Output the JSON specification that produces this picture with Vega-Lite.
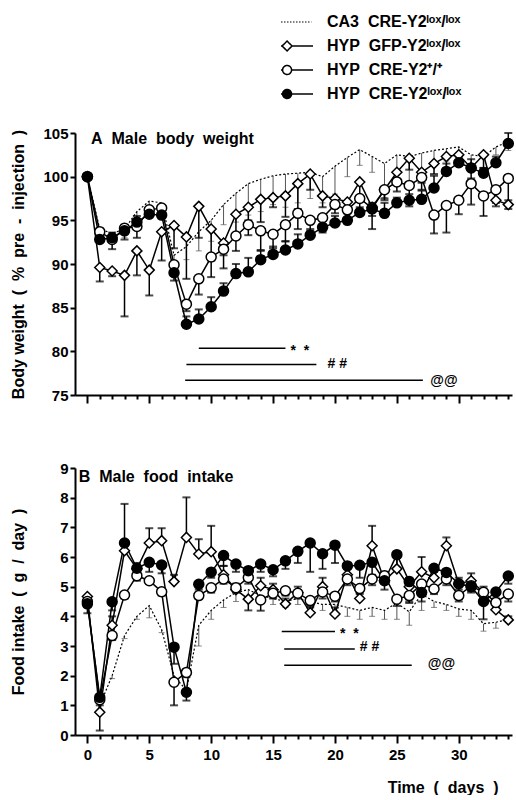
{
"$schema": "https://vega.github.io/schema/vega-lite/v6.json",
"padding": {"left": 9, "top": 14, "right": 0, "bottom": 0},
"background": "white",
"config": {
  "font": "Liberation Sans",
  "view": {"stroke": null},
  "axis": {"domainColor": "black", "domainWidth": 2, "tickColor": "black", "tickWidth": 2, "labelFont": "Liberation Sans", "labelFontWeight": "bold", "labelFontSize": 15, "labelColor": "black", "titleFont": "Liberation Sans", "titleFontWeight": "bold", "titleFontSize": 16, "titleColor": "black", "grid": false, "labelPadding": 2},
  "concat": {"spacing": 57}
},
"datasets": {
"s": [
{"p":"A","g":"CA3","x":0,"y":100},{"p":"A","g":"CA3","x":1,"y":94.0,"e":93.3},{"p":"A","g":"CA3","x":2,"y":93.5,"e":92.8},{"p":"A","g":"CA3","x":3,"y":94.0,"e":93.0},{"p":"A","g":"CA3","x":4,"y":96.0,"e":95.2},{"p":"A","g":"CA3","x":5,"y":97.2,"e":96.5},{"p":"A","g":"CA3","x":6,"y":97.0,"e":96.2},{"p":"A","g":"CA3","x":7,"y":91.0,"e":89.5},{"p":"A","g":"CA3","x":8,"y":92.0,"e":90.5},{"p":"A","g":"CA3","x":9,"y":93.7,"e":91.5},{"p":"A","g":"CA3","x":10,"y":95.0,"e":92.6},{"p":"A","g":"CA3","x":11,"y":96.8,"e":94.5},{"p":"A","g":"CA3","x":12,"y":98.1,"e":94.8},{"p":"A","g":"CA3","x":13,"y":99.2,"e":95.6},{"p":"A","g":"CA3","x":14,"y":99.7,"e":96.0},{"p":"A","g":"CA3","x":15,"y":100.1,"e":96.8},{"p":"A","g":"CA3","x":16,"y":100.3,"e":96.5},{"p":"A","g":"CA3","x":17,"y":100.4,"e":97.0},{"p":"A","g":"CA3","x":18,"y":100.5,"e":97.5},{"p":"A","g":"CA3","x":19,"y":100.0,"e":97.0},{"p":"A","g":"CA3","x":20,"y":101.2,"e":98.0},{"p":"A","g":"CA3","x":21,"y":102.2,"e":100.0},{"p":"A","g":"CA3","x":22,"y":103.1,"e":101.3},{"p":"A","g":"CA3","x":23,"y":102.3,"e":100.5},{"p":"A","g":"CA3","x":24,"y":101.5,"e":97.6},{"p":"A","g":"CA3","x":25,"y":102.5,"e":100.2},{"p":"A","g":"CA3","x":26,"y":102.3,"e":99.0},{"p":"A","g":"CA3","x":27,"y":102.7,"e":100.0},{"p":"A","g":"CA3","x":28,"y":103.0,"e":101.5},{"p":"A","g":"CA3","x":29,"y":103.2,"e":101.8},{"p":"A","g":"CA3","x":30,"y":103.4,"e":102.0},{"p":"A","g":"CA3","x":31,"y":102.5,"e":101.5},{"p":"A","g":"CA3","x":32,"y":102.3,"e":101.0},{"p":"A","g":"CA3","x":33,"y":103.4,"e":102.5},{"p":"A","g":"CA3","x":34,"y":104.0,"e":103.0},
{"p":"A","g":"GFP","x":0,"y":100},{"p":"A","g":"GFP","x":1,"y":89.6,"e":88.0},{"p":"A","g":"GFP","x":2,"y":89.2,"e":88.6},{"p":"A","g":"GFP","x":3,"y":88.7,"e":84.0},{"p":"A","g":"GFP","x":4,"y":91.5,"e":88.7},{"p":"A","g":"GFP","x":5,"y":89.3,"e":86.4},{"p":"A","g":"GFP","x":6,"y":93.7,"e":90.4},{"p":"A","g":"GFP","x":7,"y":94.4,"e":91.8},{"p":"A","g":"GFP","x":8,"y":93.1,"e":88.3},{"p":"A","g":"GFP","x":9,"y":96.6,"e":93.0},{"p":"A","g":"GFP","x":10,"y":94.0,"e":90.4},{"p":"A","g":"GFP","x":11,"y":92.4,"e":91.0},{"p":"A","g":"GFP","x":12,"y":95.7,"e":93.3},{"p":"A","g":"GFP","x":13,"y":96.5,"e":95.0},{"p":"A","g":"GFP","x":14,"y":97.4,"e":94.8},{"p":"A","g":"GFP","x":15,"y":97.6,"e":96.5},{"p":"A","g":"GFP","x":16,"y":97.8,"e":95.4},{"p":"A","g":"GFP","x":17,"y":99.2,"e":96.3},{"p":"A","g":"GFP","x":18,"y":100.3,"e":98.5},{"p":"A","g":"GFP","x":19,"y":97.8,"e":96.5},{"p":"A","g":"GFP","x":20,"y":97.5,"e":96.5},{"p":"A","g":"GFP","x":21,"y":97.1,"e":96.0},{"p":"A","g":"GFP","x":22,"y":99.4,"e":97.4},{"p":"A","g":"GFP","x":23,"y":96.5,"e":95.5},{"p":"A","g":"GFP","x":24,"y":98.5,"e":97.5},{"p":"A","g":"GFP","x":25,"y":100.5,"e":99.2},{"p":"A","g":"GFP","x":26,"y":102.1,"e":100.8},{"p":"A","g":"GFP","x":27,"y":100.5,"e":99.3},{"p":"A","g":"GFP","x":28,"y":101.5,"e":100.3},{"p":"A","g":"GFP","x":29,"y":102.3,"e":101.0},{"p":"A","g":"GFP","x":30,"y":102.5,"e":101.5},{"p":"A","g":"GFP","x":31,"y":101.0,"e":99.8},{"p":"A","g":"GFP","x":32,"y":102.5,"e":101.0},{"p":"A","g":"GFP","x":33,"y":97.3,"e":96.6},{"p":"A","g":"GFP","x":34,"y":96.8,"e":96.3},
{"p":"A","g":"WT","x":0,"y":100},{"p":"A","g":"WT","x":1,"y":93.7,"e":93.0},{"p":"A","g":"WT","x":2,"y":92.8,"e":91.7},{"p":"A","g":"WT","x":3,"y":94.1,"e":92.8},{"p":"A","g":"WT","x":4,"y":94.3,"e":93.0},{"p":"A","g":"WT","x":5,"y":96.2,"e":95.5},{"p":"A","g":"WT","x":6,"y":96.4,"e":95.6},{"p":"A","g":"WT","x":7,"y":89.9,"e":88.1},{"p":"A","g":"WT","x":8,"y":85.4,"e":84.6},{"p":"A","g":"WT","x":9,"y":88.3,"e":86.5},{"p":"A","g":"WT","x":10,"y":90.8,"e":88.5},{"p":"A","g":"WT","x":11,"y":91.7,"e":89.5},{"p":"A","g":"WT","x":12,"y":93.2,"e":91.5},{"p":"A","g":"WT","x":13,"y":94.5,"e":93.3},{"p":"A","g":"WT","x":14,"y":93.8,"e":91.6},{"p":"A","g":"WT","x":15,"y":93.4,"e":91.8},{"p":"A","g":"WT","x":16,"y":94.5,"e":92.6},{"p":"A","g":"WT","x":17,"y":95.8,"e":94.0},{"p":"A","g":"WT","x":18,"y":95.0,"e":93.8},{"p":"A","g":"WT","x":19,"y":95.3,"e":93.6},{"p":"A","g":"WT","x":20,"y":96.8,"e":95.8},{"p":"A","g":"WT","x":21,"y":96.2,"e":94.8},{"p":"A","g":"WT","x":22,"y":97.5,"e":96.0},{"p":"A","g":"WT","x":23,"y":96.4,"e":94.0},{"p":"A","g":"WT","x":24,"y":98.5,"e":97.3},{"p":"A","g":"WT","x":25,"y":99.4,"e":98.3},{"p":"A","g":"WT","x":26,"y":99.0,"e":96.6},{"p":"A","g":"WT","x":27,"y":99.9,"e":98.5},{"p":"A","g":"WT","x":28,"y":95.6,"e":93.5},{"p":"A","g":"WT","x":29,"y":96.7,"e":93.6},{"p":"A","g":"WT","x":30,"y":97.3,"e":95.7},{"p":"A","g":"WT","x":31,"y":99.2,"e":96.8},{"p":"A","g":"WT","x":32,"y":97.8,"e":95.5},{"p":"A","g":"WT","x":33,"y":98.5,"e":97.0},{"p":"A","g":"WT","x":34,"y":99.8,"e":97.3},
{"p":"A","g":"KO","x":0,"y":100},{"p":"A","g":"KO","x":1,"y":92.8,"e":93.5},{"p":"A","g":"KO","x":2,"y":93.0,"e":93.6},{"p":"A","g":"KO","x":3,"y":93.8,"e":94.5},{"p":"A","g":"KO","x":4,"y":94.8,"e":95.5},{"p":"A","g":"KO","x":5,"y":95.7,"e":96.3},{"p":"A","g":"KO","x":6,"y":95.6,"e":96.2},{"p":"A","g":"KO","x":7,"y":89.0,"e":89.8},{"p":"A","g":"KO","x":8,"y":83.1,"e":84.0},{"p":"A","g":"KO","x":9,"y":83.7,"e":84.8},{"p":"A","g":"KO","x":10,"y":85.1,"e":86.2},{"p":"A","g":"KO","x":11,"y":86.9,"e":87.8},{"p":"A","g":"KO","x":12,"y":88.9,"e":90.0},{"p":"A","g":"KO","x":13,"y":89.1,"e":90.7},{"p":"A","g":"KO","x":14,"y":90.5,"e":91.5},{"p":"A","g":"KO","x":15,"y":91.1,"e":92.0},{"p":"A","g":"KO","x":16,"y":91.6,"e":92.6},{"p":"A","g":"KO","x":17,"y":92.3,"e":93.4},{"p":"A","g":"KO","x":18,"y":93.3,"e":94.0},{"p":"A","g":"KO","x":19,"y":94.2,"e":95.2},{"p":"A","g":"KO","x":20,"y":94.7,"e":95.5},{"p":"A","g":"KO","x":21,"y":95.0,"e":95.8},{"p":"A","g":"KO","x":22,"y":95.9,"e":96.5},{"p":"A","g":"KO","x":23,"y":96.3,"e":97.0},{"p":"A","g":"KO","x":24,"y":95.8,"e":97.0},{"p":"A","g":"KO","x":25,"y":97.0,"e":97.6},{"p":"A","g":"KO","x":26,"y":97.3,"e":98.0},{"p":"A","g":"KO","x":27,"y":97.4,"e":98.4},{"p":"A","g":"KO","x":28,"y":98.7,"e":100.1},{"p":"A","g":"KO","x":29,"y":100.6,"e":101.5},{"p":"A","g":"KO","x":30,"y":101.6,"e":102.3},{"p":"A","g":"KO","x":31,"y":101.0,"e":102.0},{"p":"A","g":"KO","x":32,"y":100.4,"e":101.0},{"p":"A","g":"KO","x":33,"y":101.6,"e":102.3},{"p":"A","g":"KO","x":34,"y":103.8,"e":105.0},
{"p":"B","g":"CA3","x":1,"y":1.0},{"p":"B","g":"CA3","x":2,"y":2.0,"e":1.9},{"p":"B","g":"CA3","x":3,"y":3.35,"e":3.25},{"p":"B","g":"CA3","x":4,"y":4.0,"e":3.9},{"p":"B","g":"CA3","x":5,"y":4.36,"e":3.95},{"p":"B","g":"CA3","x":6,"y":3.55,"e":3.45},{"p":"B","g":"CA3","x":7,"y":2.0,"e":1.9},{"p":"B","g":"CA3","x":8,"y":1.5,"e":1.4},{"p":"B","g":"CA3","x":9,"y":3.7,"e":3.0},{"p":"B","g":"CA3","x":10,"y":4.2,"e":3.9},{"p":"B","g":"CA3","x":11,"y":4.55,"e":4.3},{"p":"B","g":"CA3","x":12,"y":4.8,"e":4.5},{"p":"B","g":"CA3","x":13,"y":4.9,"e":4.6},{"p":"B","g":"CA3","x":14,"y":4.7,"e":4.5},{"p":"B","g":"CA3","x":15,"y":4.6,"e":4.4},{"p":"B","g":"CA3","x":16,"y":4.5,"e":4.3},{"p":"B","g":"CA3","x":17,"y":4.6,"e":4.4},{"p":"B","g":"CA3","x":18,"y":4.5,"e":4.3},{"p":"B","g":"CA3","x":19,"y":4.4,"e":4.2},{"p":"B","g":"CA3","x":20,"y":4.4,"e":4.2},{"p":"B","g":"CA3","x":21,"y":4.3,"e":4.0},{"p":"B","g":"CA3","x":22,"y":4.2,"e":3.9},{"p":"B","g":"CA3","x":23,"y":4.3,"e":4.0},{"p":"B","g":"CA3","x":24,"y":4.2,"e":3.9},{"p":"B","g":"CA3","x":25,"y":4.45,"e":3.9},{"p":"B","g":"CA3","x":26,"y":4.15,"e":3.7},{"p":"B","g":"CA3","x":27,"y":4.75,"e":4.2},{"p":"B","g":"CA3","x":28,"y":4.5,"e":4.3},{"p":"B","g":"CA3","x":29,"y":4.4,"e":4.2},{"p":"B","g":"CA3","x":30,"y":4.25,"e":4.0},{"p":"B","g":"CA3","x":31,"y":4.2,"e":3.9},{"p":"B","g":"CA3","x":32,"y":3.75,"e":3.5},{"p":"B","g":"CA3","x":33,"y":3.8,"e":3.6},{"p":"B","g":"CA3","x":34,"y":3.9,"e":3.8},
{"p":"B","g":"GFP","x":0,"y":4.67},{"p":"B","g":"GFP","x":1,"y":0.77,"e":0.15},{"p":"B","g":"GFP","x":2,"y":3.7,"e":4.0},{"p":"B","g":"GFP","x":3,"y":6.21,"e":6.5},{"p":"B","g":"GFP","x":4,"y":5.6,"e":5.8},{"p":"B","g":"GFP","x":5,"y":6.47,"e":6.97},{"p":"B","g":"GFP","x":6,"y":6.55,"e":6.97},{"p":"B","g":"GFP","x":7,"y":5.17,"e":5.4},{"p":"B","g":"GFP","x":8,"y":6.66,"e":8.01},{"p":"B","g":"GFP","x":9,"y":6.1,"e":6.6},{"p":"B","g":"GFP","x":10,"y":6.18,"e":7.05},{"p":"B","g":"GFP","x":11,"y":5.4,"e":5.7},{"p":"B","g":"GFP","x":12,"y":4.9,"e":5.1},{"p":"B","g":"GFP","x":13,"y":4.58,"e":4.2},{"p":"B","g":"GFP","x":14,"y":5.03,"e":5.3},{"p":"B","g":"GFP","x":15,"y":4.9,"e":5.1},{"p":"B","g":"GFP","x":16,"y":4.42,"e":4.6},{"p":"B","g":"GFP","x":17,"y":4.8,"e":5.0},{"p":"B","g":"GFP","x":18,"y":4.12,"e":4.3},{"p":"B","g":"GFP","x":19,"y":5.0,"e":5.3},{"p":"B","g":"GFP","x":20,"y":4.08,"e":4.3},{"p":"B","g":"GFP","x":21,"y":5.4,"e":5.6},{"p":"B","g":"GFP","x":22,"y":4.6,"e":4.8},{"p":"B","g":"GFP","x":23,"y":6.38,"e":7.05},{"p":"B","g":"GFP","x":24,"y":5.2,"e":5.5},{"p":"B","g":"GFP","x":25,"y":5.6,"e":6.1},{"p":"B","g":"GFP","x":26,"y":5.0,"e":5.3},{"p":"B","g":"GFP","x":27,"y":5.5,"e":6.0},{"p":"B","g":"GFP","x":28,"y":5.3,"e":5.5},{"p":"B","g":"GFP","x":29,"y":6.38,"e":6.66},{"p":"B","g":"GFP","x":30,"y":5.1,"e":5.3},{"p":"B","g":"GFP","x":31,"y":5.2,"e":5.45},{"p":"B","g":"GFP","x":32,"y":4.8,"e":5.0},{"p":"B","g":"GFP","x":33,"y":4.22,"e":4.4},{"p":"B","g":"GFP","x":34,"y":3.88,"e":4.0},
{"p":"B","g":"WT","x":0,"y":4.5},{"p":"B","g":"WT","x":1,"y":1.19,"e":1.0},{"p":"B","g":"WT","x":2,"y":3.35,"e":3.2},{"p":"B","g":"WT","x":3,"y":4.72,"e":4.6},{"p":"B","g":"WT","x":4,"y":5.37,"e":5.2},{"p":"B","g":"WT","x":5,"y":5.2,"e":5.1},{"p":"B","g":"WT","x":6,"y":4.83,"e":4.7},{"p":"B","g":"WT","x":7,"y":1.78,"e":1.0},{"p":"B","g":"WT","x":8,"y":2.11,"e":1.95},{"p":"B","g":"WT","x":9,"y":4.7,"e":4.6},{"p":"B","g":"WT","x":10,"y":4.96,"e":4.8},{"p":"B","g":"WT","x":11,"y":5.26,"e":5.1},{"p":"B","g":"WT","x":12,"y":4.96,"e":4.8},{"p":"B","g":"WT","x":13,"y":5.31,"e":5.1},{"p":"B","g":"WT","x":14,"y":4.55,"e":4.19},{"p":"B","g":"WT","x":15,"y":4.78,"e":4.6},{"p":"B","g":"WT","x":16,"y":4.86,"e":4.7},{"p":"B","g":"WT","x":17,"y":4.78,"e":4.6},{"p":"B","g":"WT","x":18,"y":4.53,"e":4.35},{"p":"B","g":"WT","x":19,"y":4.82,"e":4.6},{"p":"B","g":"WT","x":20,"y":4.68,"e":4.5},{"p":"B","g":"WT","x":21,"y":5.26,"e":5.05},{"p":"B","g":"WT","x":22,"y":4.94,"e":4.75},{"p":"B","g":"WT","x":23,"y":5.26,"e":5.05},{"p":"B","g":"WT","x":24,"y":5.37,"e":5.1},{"p":"B","g":"WT","x":25,"y":4.58,"e":4.35},{"p":"B","g":"WT","x":26,"y":4.7,"e":4.45},{"p":"B","g":"WT","x":27,"y":5.09,"e":4.9},{"p":"B","g":"WT","x":28,"y":4.92,"e":4.75},{"p":"B","g":"WT","x":29,"y":5.26,"e":5.05},{"p":"B","g":"WT","x":30,"y":4.7,"e":4.5},{"p":"B","g":"WT","x":31,"y":5.03,"e":4.85},{"p":"B","g":"WT","x":32,"y":4.81,"e":4.6},{"p":"B","g":"WT","x":33,"y":4.47,"e":4.3},{"p":"B","g":"WT","x":34,"y":4.75,"e":4.5},
{"p":"B","g":"KO","x":0,"y":4.42,"e":4.1},{"p":"B","g":"KO","x":1,"y":1.27,"e":1.1},{"p":"B","g":"KO","x":2,"y":4.49,"e":4.2},{"p":"B","g":"KO","x":3,"y":6.47,"e":7.79},{"p":"B","g":"KO","x":4,"y":5.62,"e":5.4},{"p":"B","g":"KO","x":5,"y":5.82,"e":5.5},{"p":"B","g":"KO","x":6,"y":5.73,"e":5.45},{"p":"B","g":"KO","x":7,"y":2.96,"e":2.4},{"p":"B","g":"KO","x":8,"y":1.44,"e":1.16},{"p":"B","g":"KO","x":9,"y":5.08,"e":4.9},{"p":"B","g":"KO","x":10,"y":5.49,"e":5.3},{"p":"B","g":"KO","x":11,"y":6.05,"e":5.7},{"p":"B","g":"KO","x":12,"y":5.76,"e":5.5},{"p":"B","g":"KO","x":13,"y":5.54,"e":5.3},{"p":"B","g":"KO","x":14,"y":5.76,"e":5.5},{"p":"B","g":"KO","x":15,"y":5.57,"e":5.35},{"p":"B","g":"KO","x":16,"y":5.87,"e":5.6},{"p":"B","g":"KO","x":17,"y":6.19,"e":5.8},{"p":"B","g":"KO","x":18,"y":6.47,"e":5.5},{"p":"B","g":"KO","x":19,"y":6.11,"e":5.6},{"p":"B","g":"KO","x":20,"y":6.4,"e":5.8},{"p":"B","g":"KO","x":21,"y":5.7,"e":5.2},{"p":"B","g":"KO","x":22,"y":5.72,"e":5.3},{"p":"B","g":"KO","x":23,"y":5.82,"e":5.4},{"p":"B","g":"KO","x":24,"y":5.2,"e":4.9},{"p":"B","g":"KO","x":25,"y":6.08,"e":5.6},{"p":"B","g":"KO","x":26,"y":5.17,"e":4.5},{"p":"B","g":"KO","x":27,"y":4.8,"e":4.5},{"p":"B","g":"KO","x":28,"y":5.62,"e":5.3},{"p":"B","g":"KO","x":29,"y":5.48,"e":5.2},{"p":"B","g":"KO","x":30,"y":5.1,"e":4.9},{"p":"B","g":"KO","x":31,"y":5.0,"e":4.8},{"p":"B","g":"KO","x":32,"y":4.5,"e":3.9},{"p":"B","g":"KO","x":33,"y":4.82,"e":4.6},{"p":"B","g":"KO","x":34,"y":5.36,"e":5.1}
],
"ann": [
{"p":"A","k":"line","x":9,"x2":16,"y":80.35},
{"p":"A","k":"line","x":8,"x2":18.5,"y":78.5},
{"p":"A","k":"line","x":7.9,"x2":27.1,"y":76.7},
{"p":"A","k":"sig","x":16.4,"y":80.0,"t":"*\u00a0 *"},
{"p":"A","k":"sig","x":19.4,"y":78.5,"t":"#\u00a0#"},
{"p":"A","k":"sig","x":27.7,"y":76.6,"t":"@@"},
{"p":"A","k":"ttl","x":0.3,"y":104.3,"t":"A\u00a0 Male\u00a0 body\u00a0 weight"},
{"p":"B","k":"line","x":15.7,"x2":20.0,"y":3.49},
{"p":"B","k":"line","x":15.9,"x2":21.6,"y":2.9},
{"p":"B","k":"line","x":15.9,"x2":26.2,"y":2.35},
{"p":"B","k":"sig","x":20.4,"y":3.4,"t":"*\u00a0 *"},
{"p":"B","k":"sig","x":22.0,"y":2.95,"t":"#\u00a0#"},
{"p":"B","k":"sig","x":27.5,"y":2.4,"t":"@@"},
{"p":"B","k":"ttl","x":-0.7,"y":8.7,"t":"B\u00a0 Male\u00a0 food\u00a0 intake"}
]
},
"vconcat": [
{
  "width": 437, "height": 262,
  "data": {"name": "s"},
  "transform": [{"filter": "datum.p === 'A'"}],
  "encoding": {
    "x": {"field": "x", "type": "quantitative", "scale": {"domain": [-1, 34.3], "nice": false, "zero": false},
          "axis": {"values": [0,1,2,3,4,5,6,7,8,9,10,11,12,13,14,15,16,17,18,19,20,21,22,23,24,25,26,27,28,29,30,31,32,33,34], "labels": false, "title": null, "tickSize": {"condition": {"test": "datum.value % 5 === 0", "value": 8}, "value": 4}}},
    "y": {"field": "y", "type": "quantitative", "scale": {"domain": [75, 105], "nice": false, "zero": false},
          "axis": {"values": [75,80,85,90,95,100,105], "tickSize": 5, "title": "Body weight\u00a0 (\u00a0 %\u00a0 pre\u00a0 -\u00a0 injection\u00a0 )", "titleX": -57, "titleBaseline": "middle"}}
  },
  "layer": [
    {"transform": [{"filter": "datum.g === 'CA3' && isValid(datum.e)"}], "mark": {"type": "rule", "color": "#555", "strokeWidth": 1}, "encoding": {"y2": {"field": "e"}}},
    {"transform": [{"filter": "datum.g === 'CA3' && isValid(datum.e)"}], "mark": {"type": "tick", "orient": "horizontal", "color": "#555", "size": 6, "thickness": 1}, "encoding": {"y": {"field": "e", "type": "quantitative"}}},
    {"transform": [{"filter": "datum.g !== 'CA3' && isValid(datum.e)"}], "mark": {"type": "rule", "color": "black", "strokeWidth": 1.5}, "encoding": {"y2": {"field": "e"}}},
    {"transform": [{"filter": "datum.g !== 'CA3' && isValid(datum.e)"}], "mark": {"type": "tick", "orient": "horizontal", "color": "black", "size": 8, "thickness": 2}, "encoding": {"y": {"field": "e", "type": "quantitative"}}},
    {"transform": [{"filter": "datum.g === 'CA3'"}], "mark": {"type": "line", "color": "black", "strokeWidth": 1.2, "strokeDash": [2, 2]}, "encoding": {}},
    {"transform": [{"filter": "datum.g !== 'CA3'"}], "mark": {"type": "line"},
     "encoding": {
       "color": {"field": "g", "type": "nominal", "scale": {"domain": ["CA3", "GFP", "WT", "KO"], "range": ["black", "black", "black", "black"]},
         "legend": {"orient": "none", "legendX": 214, "legendY": -119, "title": null, "symbolSize": 1024, "symbolStrokeWidth": 1.5, "labelFont": "Liberation Sans", "labelFontSize": 16, "labelFontWeight": "bold", "labelColor": "black", "labelOffset": 22, "rowPadding": 8,
           "labelExpr": "datum.value === 'CA3' ? 'CA3\u00a0 CRE-Y2ˡᵒˣ/ˡᵒˣ' : datum.value === 'GFP' ? 'HYP\u00a0 GFP-Y2ˡᵒˣ/ˡᵒˣ' : datum.value === 'WT' ? 'HYP\u00a0 CRE-Y2⁺/⁺' : 'HYP\u00a0 CRE-Y2ˡᵒˣ/ˡᵒˣ'",
           "encode": {"symbols": {"update": {
             "shape": {"signal": "datum.value === 'CA3' ? 'M-1,0L0.9,0' : datum.value === 'GFP' ? 'M-1,0L-0.93,0M-0.31,0L1,0M-0.62,-0.31L-0.31,0L-0.62,0.31L-0.93,0Z' : 'M-1,0L-0.9,0M-0.34,0L1,0M-0.34,0A0.28,0.28 0 1 1 -0.9,0A0.28,0.28 0 1 1 -0.34,0Z'"},
             "fill": {"signal": "datum.value === 'KO' ? 'black' : 'white'"},
             "stroke": {"value": "black"},
             "strokeDash": {"signal": "datum.value === 'CA3' ? [1.5, 1.5] : [1, 0]"},
             "strokeWidth": {"signal": "datum.value === 'CA3' ? 1 : 1.5"},
             "opacity": {"value": 1}
           }}}
         }},
       "strokeWidth": {"field": "g", "type": "nominal", "scale": {"domain": ["GFP", "WT", "KO"], "range": [1.5, 1.5, 2.2]}, "legend": null}
     }},
    {"transform": [{"filter": "datum.g !== 'CA3'"}], "mark": {"type": "point", "filled": true, "stroke": "black", "strokeWidth": 1.5, "opacity": 1, "size": 100},
     "encoding": {
       "shape": {"field": "g", "type": "nominal", "scale": {"domain": ["GFP", "WT", "KO"], "range": ["diamond", "circle", "circle"]}, "legend": null},
       "fill": {"field": "g", "type": "nominal", "scale": {"domain": ["GFP", "WT", "KO"], "range": ["white", "white", "black"]}, "legend": null}
     }},
    {"data": {"name": "ann"}, "transform": [{"filter": "datum.p === 'A' && datum.k === 'line'"}], "mark": {"type": "rule", "color": "black", "strokeWidth": 1.5}, "encoding": {"x2": {"field": "x2"}}},
    {"data": {"name": "ann"}, "transform": [{"filter": "datum.p === 'A' && datum.k === 'sig'"}], "mark": {"type": "text", "align": "left", "baseline": "middle", "font": "Liberation Sans", "fontWeight": "bold", "fontSize": 14, "color": "black"}, "encoding": {"text": {"field": "t"}}},
    {"data": {"name": "ann"}, "transform": [{"filter": "datum.p === 'A' && datum.k === 'ttl'"}], "mark": {"type": "text", "align": "left", "baseline": "middle", "font": "Liberation Sans", "fontWeight": "bold", "fontSize": 16, "color": "black"}, "encoding": {"text": {"field": "t"}}}
  ]
},
{
  "width": 437, "height": 267,
  "data": {"name": "s"},
  "transform": [{"filter": "datum.p === 'B'"}],
  "encoding": {
    "x": {"field": "x", "type": "quantitative", "scale": {"domain": [-1, 34.3], "nice": false, "zero": false},
          "axis": {"values": [0,1,2,3,4,5,6,7,8,9,10,11,12,13,14,15,16,17,18,19,20,21,22,23,24,25,26,27,28,29,30,31,32,33,34], "labelExpr": "datum.value % 5 === 0 ? datum.label : ''", "labelOverlap": false, "labelFlush": false, "labelPadding": 4, "title": "Time\u00a0 (\u00a0 days\u00a0 )", "titleAnchor": "end", "titleAlign": "right", "titleX": 423, "titleY": 52, "titleBaseline": "middle", "tickSize": {"condition": {"test": "datum.value % 5 === 0", "value": 8}, "value": 4}}},
    "y": {"field": "y", "type": "quantitative", "scale": {"domain": [0, 9], "nice": false, "zero": false},
          "axis": {"values": [0,1,2,3,4,5,6,7,8,9], "tickSize": 5, "title": "Food intake\u00a0 (\u00a0 g\u00a0 /\u00a0 day\u00a0 )", "titleX": -57, "titleBaseline": "middle"}}
  },
  "layer": [
    {"transform": [{"filter": "datum.g === 'CA3' && isValid(datum.e)"}], "mark": {"type": "rule", "color": "#555", "strokeWidth": 1}, "encoding": {"y2": {"field": "e"}}},
    {"transform": [{"filter": "datum.g === 'CA3' && isValid(datum.e)"}], "mark": {"type": "tick", "orient": "horizontal", "color": "#555", "size": 6, "thickness": 1}, "encoding": {"y": {"field": "e", "type": "quantitative"}}},
    {"transform": [{"filter": "datum.g !== 'CA3' && isValid(datum.e)"}], "mark": {"type": "rule", "color": "black", "strokeWidth": 1.5}, "encoding": {"y2": {"field": "e"}}},
    {"transform": [{"filter": "datum.g !== 'CA3' && isValid(datum.e)"}], "mark": {"type": "tick", "orient": "horizontal", "color": "black", "size": 8, "thickness": 2}, "encoding": {"y": {"field": "e", "type": "quantitative"}}},
    {"transform": [{"filter": "datum.g === 'CA3'"}], "mark": {"type": "line", "color": "black", "strokeWidth": 1.2, "strokeDash": [2, 2]}, "encoding": {}},
    {"transform": [{"filter": "datum.g !== 'CA3'"}], "mark": {"type": "line", "color": "black"},
     "encoding": {
       "detail": {"field": "g", "type": "nominal"},
       "strokeWidth": {"field": "g", "type": "nominal", "scale": {"domain": ["GFP", "WT", "KO"], "range": [1.5, 1.5, 2.2]}, "legend": null}
     }},
    {"transform": [{"filter": "datum.g !== 'CA3'"}], "mark": {"type": "point", "filled": true, "stroke": "black", "strokeWidth": 1.5, "opacity": 1, "size": 100},
     "encoding": {
       "shape": {"field": "g", "type": "nominal", "scale": {"domain": ["GFP", "WT", "KO"], "range": ["diamond", "circle", "circle"]}, "legend": null},
       "fill": {"field": "g", "type": "nominal", "scale": {"domain": ["GFP", "WT", "KO"], "range": ["white", "white", "black"]}, "legend": null}
     }},
    {"data": {"name": "ann"}, "transform": [{"filter": "datum.p === 'B' && datum.k === 'line'"}], "mark": {"type": "rule", "color": "black", "strokeWidth": 1.5}, "encoding": {"x2": {"field": "x2"}}},
    {"data": {"name": "ann"}, "transform": [{"filter": "datum.p === 'B' && datum.k === 'sig'"}], "mark": {"type": "text", "align": "left", "baseline": "middle", "font": "Liberation Sans", "fontWeight": "bold", "fontSize": 14, "color": "black"}, "encoding": {"text": {"field": "t"}}},
    {"data": {"name": "ann"}, "transform": [{"filter": "datum.p === 'B' && datum.k === 'ttl'"}], "mark": {"type": "text", "align": "left", "baseline": "middle", "font": "Liberation Sans", "fontWeight": "bold", "fontSize": 16, "color": "black"}, "encoding": {"text": {"field": "t"}}}
  ]
}
],
"resolve": {"scale": {"color": "independent", "strokeWidth": "independent", "shape": "independent", "fill": "independent"}}
}
